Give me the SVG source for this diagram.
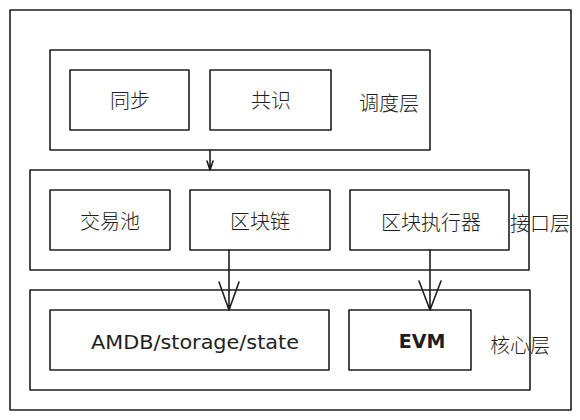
<svg xmlns="http://www.w3.org/2000/svg" width="580" height="420" viewBox="0 0 580 420">
<style>
.box{fill:#ffffff;stroke:#1e1e1e;stroke-width:1.6;stroke-linejoin:round}
.cn{font-family:"Noto Sans CJK SC","Noto Sans",sans-serif;font-size:20px;font-weight:300;fill:#1e1e1e;text-anchor:middle;dominant-baseline:central}
.en{font-family:"DejaVu Sans","Liberation Sans",sans-serif;font-size:19px;fill:#1e1e1e;text-anchor:middle;dominant-baseline:central}
.conn{fill:none;stroke:#1e1e1e;stroke-width:1.6;stroke-linecap:round;stroke-linejoin:round}
</style>
<rect width="580" height="420" fill="#ffffff"/>
<g id="outer">
<rect class="box" x="10" y="10" width="561" height="400"/>
</g>
<g id="layer-schedule">
<rect class="box" x="50" y="50" width="380" height="100"/>
<text class="cn" x="389" y="102">调度层</text>
</g>
<g id="node-sync">
<rect class="box" x="70" y="70" width="119" height="60"/>
<text class="cn" x="130" y="99">同步</text>
</g>
<g id="node-consensus">
<rect class="box" x="210" y="70" width="121" height="60"/>
<text class="cn" x="271" y="99">共识</text>
</g>
<g id="layer-interface">
<rect class="box" x="30" y="170" width="499" height="100"/>
</g>
<g id="node-txpool">
<rect class="box" x="50" y="190" width="120" height="60"/>
<text class="cn" x="110" y="220">交易池</text>
</g>
<g id="node-blockchain">
<rect class="box" x="190" y="190" width="140" height="60"/>
<text class="cn" x="260" y="220">区块链</text>
</g>
<g id="node-executor">
<rect class="box" x="350" y="190" width="159" height="60"/>
<text class="cn" x="431" y="221">区块执行器</text>
</g>
<g id="label-interface">
<text class="cn" x="540" y="222">接口层</text>
</g>
<g id="layer-core">
<rect class="box" x="30" y="290" width="500" height="100"/>
<text class="cn" x="520" y="344">核心层</text>
</g>
<g id="node-amdb">
<rect class="box" x="50" y="310" width="279" height="60"/>
<text class="en" x="195" y="342" textLength="208" lengthAdjust="spacingAndGlyphs">AMDB/storage/state</text>
</g>
<g id="node-evm">
<rect class="box" x="349" y="310" width="122" height="60"/>
<text class="en" x="422" y="341" font-weight="bold">EVM</text>
</g>
<g id="connectors">
<path class="conn" d="M210 150 L210 170 M207 161 L210 170 L213 161"/>
<path class="conn" d="M229 250 L229 310 M219 282 L229 310 L239 282"/>
<path class="conn" d="M430 250 L430 310 M419 281 L430 310 L441 281"/>
</g>
</svg>
